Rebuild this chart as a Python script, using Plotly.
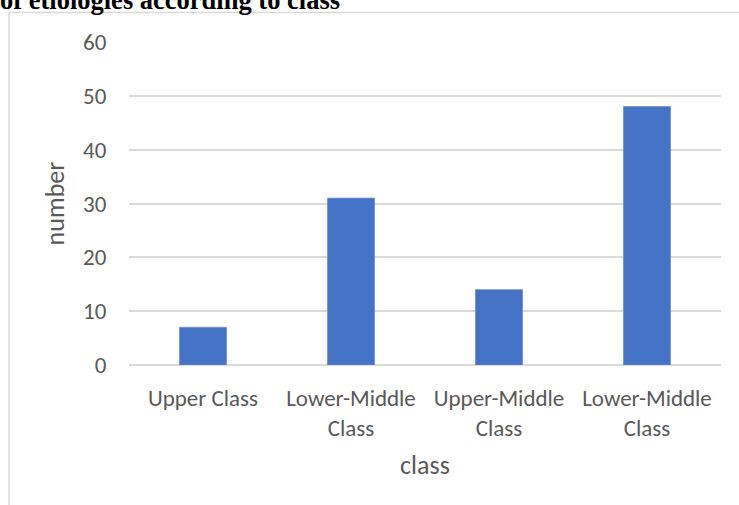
import plotly.graph_objects as go

categories = ["Upper Class", "Lower-Middle<br>Class", "Upper-Middle<br>Class", "Lower-Middle<br>Class"]
values = [7, 31, 14, 48]
y_ticks = [0, 10, 20, 30, 40, 50, 60]
title_text = "of etiologies according to class"

W, H = 739, 505
L, R, T, B = 129, 18, 42, 140
pw, ph = W - L - R, H - T - B

def px_x(px):
    return (px - L) / pw

def px_y(py):
    return (H - B - py) / ph

positions = list(range(len(categories)))
font_fam = "Carlito, Calibri, 'Open Sans', sans-serif"
grey = "#595959"
clear = "rgba(0,0,0,0)"

fig = go.Figure(go.Bar(
    x=positions, y=values,
    marker=dict(color="#4472C4", line=dict(color="#6d91d2", width=0.8)),
    width=0.318,
))

fig.update_layout(
    width=W, height=H,
    margin=dict(l=L, r=R, t=T, b=B, pad=0),
    paper_bgcolor="white", plot_bgcolor="white",
    showlegend=False,
    font=dict(family=font_fam, color=grey, size=23),
    xaxis=dict(
        tickmode="array", tickvals=positions, ticktext=categories,
        range=[-0.5, 3.5], showgrid=False, zeroline=False,
        showline=False, ticks="outside", ticklen=12, tickcolor=clear,
        tickfont=dict(size=23, color=grey),
        title=dict(text="class", font=dict(size=26, color=grey), standoff=15),
    ),
    yaxis=dict(
        range=[0, 60], tickvals=y_ticks, showgrid=True, gridcolor="#d9d9d9",
        gridwidth=1.5, zeroline=True, zerolinecolor="#d9d9d9", zerolinewidth=1.5,
        showline=False, ticks="outside", ticklen=17, tickcolor=clear,
        tickfont=dict(size=23, color=grey),
        title=dict(text="number", font=dict(size=26, color=grey), standoff=10),
    ),
)

# outer chart border (partially cropped)
fig.add_shape(type="line", xref="paper", yref="paper",
              x0=px_x(9), x1=px_x(760), y0=px_y(12.5), y1=px_y(12.5),
              line=dict(color="#d9d9d9", width=1.5))
fig.add_shape(type="line", xref="paper", yref="paper",
              x0=px_x(9), x1=px_x(9), y0=px_y(12.5), y1=px_y(530),
              line=dict(color="#d9d9d9", width=1.5))

# cropped title
fig.add_annotation(text="<b>" + title_text + "</b>", xref="paper", yref="paper",
                   x=px_x(-2), y=px_y(17.5), xanchor="left", yanchor="bottom",
                   showarrow=False,
                   font=dict(family="'Liberation Serif', 'Times New Roman', serif",
                             size=26.5, color="black"))

fig.write_html("out.html")
